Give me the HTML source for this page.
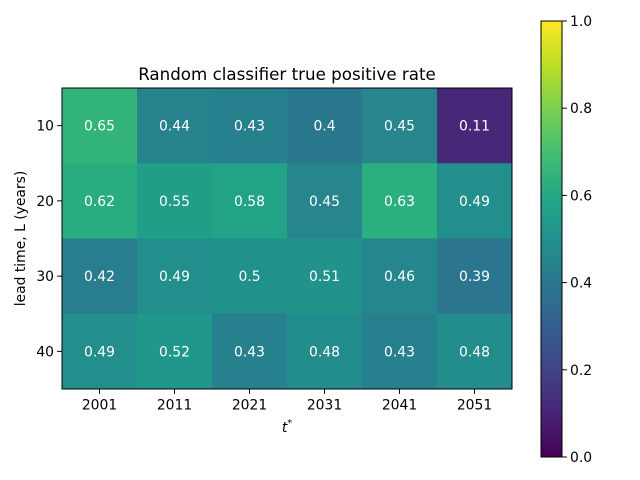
<!DOCTYPE html>
<html><head><meta charset="utf-8"><style>
body{margin:0;background:#fff}
svg{display:block;font-family:"DejaVu Sans","Liberation Sans",sans-serif}
</style></head><body>
<svg id="c" width="640" height="480" viewBox="0 0 640 480">
<defs><linearGradient id="vg" x1="0" y1="1" x2="0" y2="0">
<stop offset="0" stop-color="#440154"/><stop offset="0.1" stop-color="#482475"/><stop offset="0.2" stop-color="#414487"/><stop offset="0.3" stop-color="#355f8d"/><stop offset="0.4" stop-color="#2a788e"/><stop offset="0.5" stop-color="#21918c"/><stop offset="0.6" stop-color="#22a884"/><stop offset="0.7" stop-color="#44bf70"/><stop offset="0.8" stop-color="#7ad151"/><stop offset="0.9" stop-color="#bddf26"/><stop offset="1" stop-color="#fde725"/>
</linearGradient></defs>
<text x="287" y="80" font-size="16.7" text-anchor="middle" fill="#000">Random classifier true positive rate</text>
<g id="cells"></g>
<rect x="62" y="88" width="450" height="301" fill="none" stroke="#000" stroke-width="1"/>
<g id="axes"></g>
<text x="287" y="432" font-size="13.9" text-anchor="middle" font-style="italic">t<tspan font-size="9.5" dy="-6">*</tspan></text>
<text transform="translate(25,238.5) rotate(-90)" font-size="13.9" text-anchor="middle">lead time, L (years)</text>
<rect x="541" y="21" width="21" height="436" fill="url(#vg)" stroke="#000" stroke-width="1"/>
<g id="cb"></g>
</svg>
<script>
const xCategories=["2001","2011","2021","2031","2041","2051"];
const yCategories=["10","20","30","40"];
const values=[[0.65,0.44,0.43,0.4,0.45,0.11],[0.62,0.55,0.58,0.45,0.63,0.49],[0.42,0.49,0.5,0.51,0.46,0.39],[0.49,0.52,0.43,0.48,0.43,0.48]];
const cbTicks=[0,0.2,0.4,0.6,0.8,1.0];
const stops=["#440154","#482475","#414487","#355f8d","#2a788e","#21918c","#22a884","#44bf70","#7ad151","#bddf26","#fde725"];
function hx(h){return [1,3,5].map(i=>parseInt(h.substr(i,2),16));}
function viridis(v){v=Math.max(0,Math.min(1,v));const f=v*10,i=Math.min(9,Math.floor(f)),t=f-i;const a=hx(stops[i]),b=hx(stops[i+1]);return "rgb("+a.map((c,k)=>Math.round(c+(b[k]-c)*t)).join(",")+")";}
const X0=62,X1=512,Y0=88,Y1=389;
const cw=(X1-X0)/xCategories.length,ch=(Y1-Y0)/yCategories.length;
const xc=i=>X0+cw*(i+0.5), yc=j=>Y0+ch*(j+0.5);
const NS="http://www.w3.org/2000/svg";
function mk(t,a,p){const e=document.createElementNS(NS,t);for(const k in a)e.setAttribute(k,a[k]);p.appendChild(e);return e;}
const cells=document.getElementById('cells'),axes=document.getElementById('axes'),cb=document.getElementById('cb');
values.forEach((row,j)=>row.forEach((v,i)=>{
 const r=mk('rect',{x:X0+cw*i,y:Y0+ch*j,width:cw+0.5,height:ch+0.5,fill:viridis(v)},cells);
 
 
 const t=mk('text',{x:xc(i),y:yc(j)+5,'font-size':13.9,'text-anchor':'middle',fill:'#fff'},cells);
 t.textContent=String(v);
 
 
}));
xCategories.forEach((c,i)=>{
 mk('line',{x1:xc(i),x2:xc(i),y1:Y1,y2:Y1+4.9,stroke:'#000'},axes);
 const t=mk('text',{x:xc(i),y:Y1+20.5,'font-size':13.9,'text-anchor':'middle'},axes);
 t.textContent=c;
 
 
});
yCategories.forEach((c,j)=>{
 mk('line',{x1:X0-4.9,x2:X0,y1:yc(j),y2:yc(j),stroke:'#000'},axes);
 const t=mk('text',{x:X0-8,y:yc(j)+5,'font-size':13.9,'text-anchor':'end'},axes);
 t.textContent=c;
 
 
});
const cy=v=>457-v*436;
cbTicks.forEach(v=>{
 mk('line',{x1:562,x2:566.9,y1:cy(v),y2:cy(v),stroke:'#000'},cb);
 const t=mk('text',{x:570,y:cy(v)+5,'font-size':13.9},cb);
 t.textContent=v.toFixed(1);
 
 
});
</script>
</body></html>
